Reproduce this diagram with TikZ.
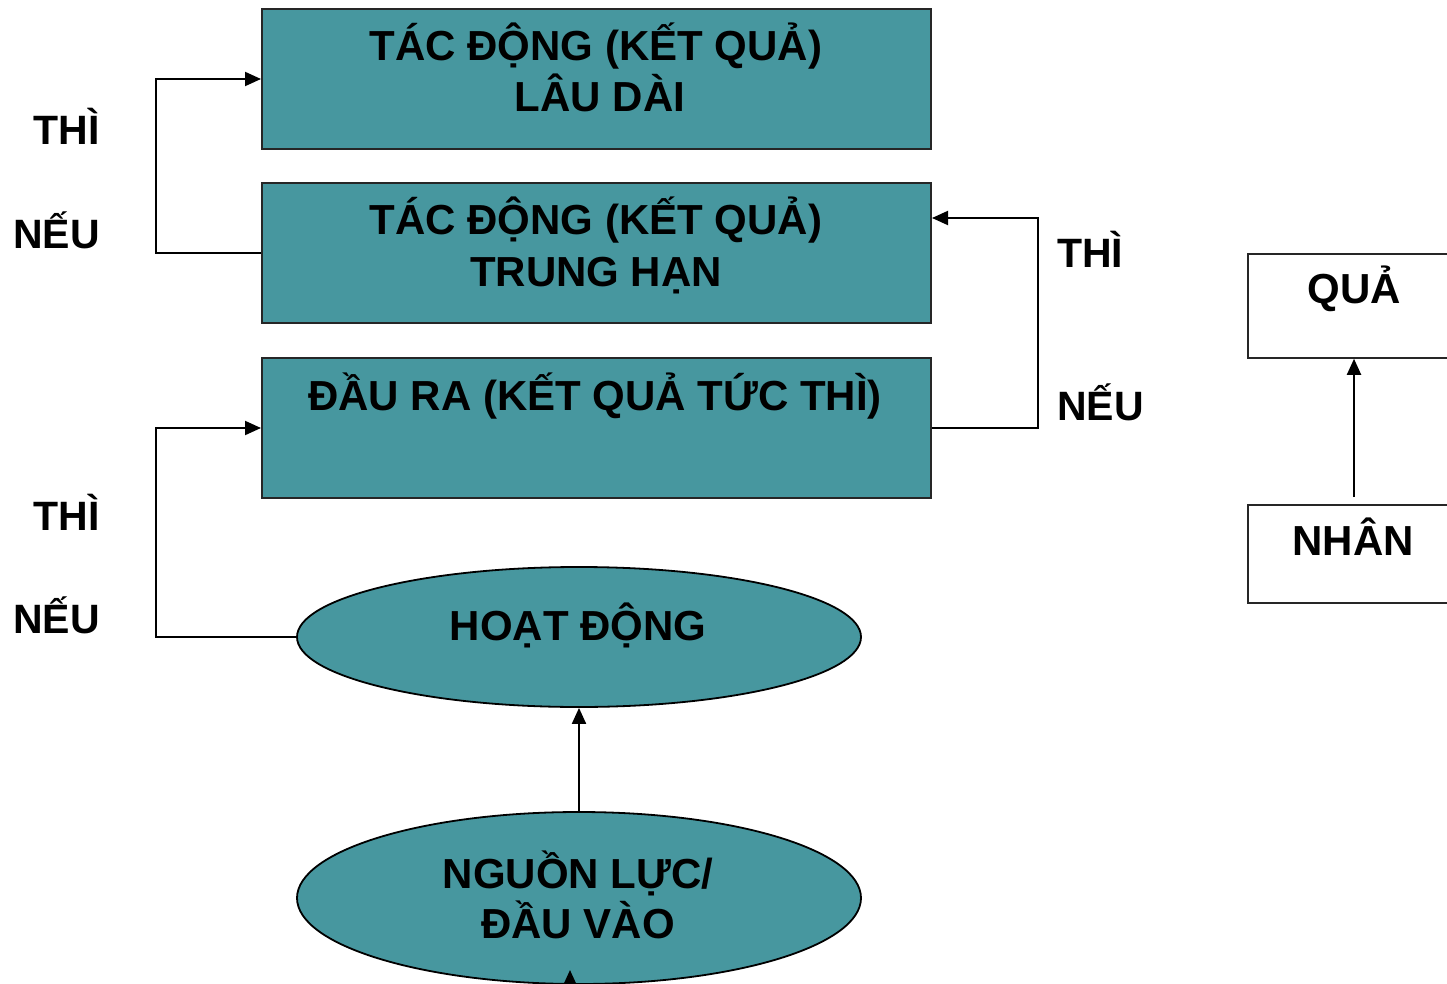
\documentclass[tikz,border=0pt]{standalone}
\usepackage{fontspec}
\setmainfont{Liberation Sans}
\usetikzlibrary{shapes.geometric,arrows.meta}
\definecolor{teal1}{HTML}{47979F}
\tikzset{
  tbox/.style={draw=black!85,line width=2pt,fill=teal1,rectangle,minimum width=669pt,minimum height=140pt,inner sep=0pt},
  tell/.style={draw=black,line width=1.8pt,fill=teal1,ellipse,minimum width=564pt,inner sep=0pt},
  wbox/.style={draw=black!85,line width=1.6pt,fill=white,rectangle,minimum width=212pt,inner sep=0pt},
  txt/.style={font=\fontsize{42}{50}\selectfont\bfseries,anchor=base,inner sep=0pt},
  lbl/.style={font=\fontsize{41}{50}\selectfont\bfseries,inner sep=0pt},
  arr/.style={line width=2pt,-{Triangle[length=16pt,width=14pt]}},
  con/.style={line width=2pt}
}
\begin{document}
\begin{tikzpicture}[x=1pt,y=-1pt]
\clip (0,0) rectangle (1447,984);
\fill[white] (0,0) rectangle (1447,984);
% boxes
\node[tbox] (b1) at (596.5,79) {};
\node[tbox] (b2) at (596.5,253) {};
\node[tbox] (b3) at (596.5,428) {};
\node[tell,minimum height=140pt] (e1) at (579,637) {};
\node[tell,minimum height=172pt] (e2) at (579,898) {};
\node[wbox,minimum height=104pt] (qua) at (1354,306) {};
\node[wbox,minimum height=98pt] (nhan) at (1354,554) {};
% texts
\node[txt] (t1a) at (596,61) {TÁC ĐỘNG (KẾT QUẢ)};
\node[txt] (t1b) at (600,112) {LÂU DÀI};
\node[txt] (t2a) at (596,235) {TÁC ĐỘNG (KẾT QUẢ)};
\node[txt] (t2b) at (596,286) {TRUNG HẠN};
\node[txt] (t3a) at (595,410) {ĐẦU RA (KẾT QUẢ TỨC THÌ)};
\node[txt] (te1) at (578,640) {HOẠT ĐỘNG};
\node[txt] (te2a) at (578,888) {NGUỒN LỰC/};
\node[txt] (te2b) at (578,938) {ĐẦU VÀO};
\node[txt] (tq) at (1354,303) {QUẢ};
\node[txt] (tn) at (1353,555) {NHÂN};
% labels
\node[lbl,anchor=base east] (l1) at (100,145) {THÌ};
\node[lbl,anchor=base east] (l2) at (100,248) {NẾU};
\node[lbl,anchor=base east] (l3) at (100,530) {THÌ};
\node[lbl,anchor=base east] (l4) at (100,633) {NẾU};
\node[lbl,anchor=base west] (l5) at (1057,267) {THÌ};
\node[lbl,anchor=base west] (l6) at (1057,420) {NẾU};
% connectors
\draw[arr] (b2.west) -- ++(-105,0) |- (b1.west);
\draw[arr] (e1.west) -- ++(-140,0) |- (b3.west);
\draw[arr] (b3.east) -- ++(106,0) |- ([yshift=-36pt]b2.north east);
\draw[arr] (e2.north) -- (e1.south);
\draw[arr] ([yshift=7pt]nhan.north) -- (qua.south);
\coordinate (src) at (570,1010);
\coordinate (e2in) at (570,970);
\draw[arr] (src) -- (e2in);
\end{tikzpicture}
\end{document}
